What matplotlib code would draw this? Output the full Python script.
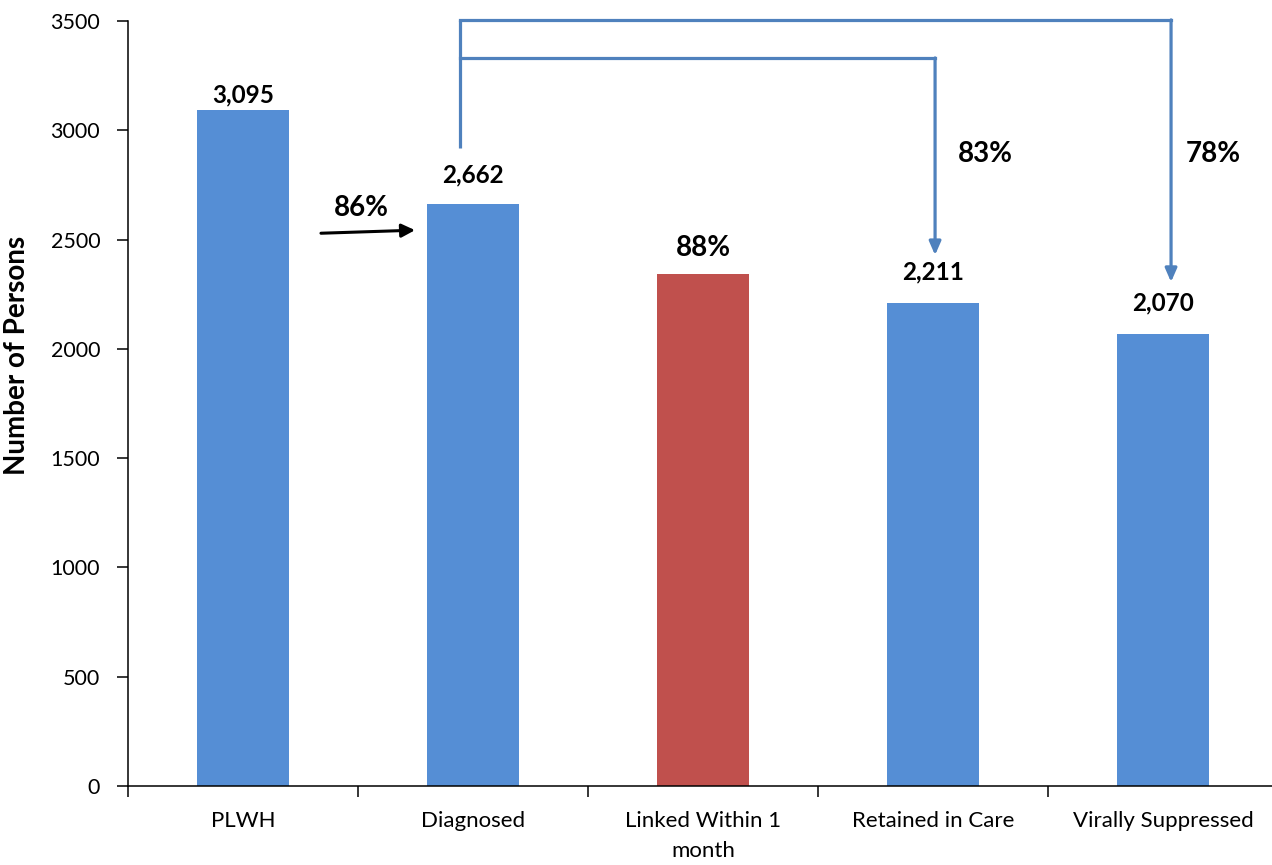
import matplotlib
matplotlib.use("Agg")
import matplotlib.pyplot as plt

plt.rcParams['font.family'] = ['Lato', 'DejaVu Sans']

categories = ["PLWH", "Diagnosed", "Linked Within 1\nmonth", "Retained in Care", "Virally Suppressed"]
values = [3095, 2662, 2342, 2211, 2070]
value_labels = ["3,095", "2,662", "88%", "2,211", "2,070"]
bar_colors = ["#558ED5", "#558ED5", "#C0504D", "#558ED5", "#558ED5"]
yticks = [0, 500, 1000, 1500, 2000, 2500, 3000, 3500]

fig = plt.figure(figsize=(12.72, 8.65), dpi=100)
ax = fig.add_axes([128/1272, 79/865, 1150/1272, 765/865])

x = list(range(len(categories)))
ax.bar(x, values, width=0.4, color=bar_colors, zorder=2)
ax.set_xlim(-0.5, 4.5)
ax.set_ylim(0, 3500)
ax.set_yticks(yticks)
ax.set_xticks([i - 0.5 for i in range(5)], minor=False)
ax.set_xticklabels([])
ax.set_xticks(x, minor=True)
ax.set_xticklabels(categories, minor=True, fontsize=16, linespacing=1.6, va='top')
ax.tick_params(axis='x', which='minor', length=0, pad=18)
ax.tick_params(axis='x', which='major', length=8, width=1.1, direction='out')
ax.tick_params(axis='y', length=8, width=1.1, direction='out', pad=12, labelsize=15.5)
for s in ['top', 'right']:
    ax.spines[s].set_visible(False)
for s in ['left', 'bottom']:
    ax.spines[s].set_linewidth(1.1)

fig.text(17/1272, 1 - 355/865, "Number of Persons", rotation=90, ha='center', va='center',
         fontsize=20, fontweight='bold')

# value labels
offsets = [3, 18, 13, 19, 19]
for i, (v, lab) in enumerate(zip(values, value_labels)):
    fs = 20 if '%' in lab else 17.5
    ax.annotate(lab, (i, v), xytext=(0, offsets[i] * 0.72), textcoords='offset points',
                ha='center', va='bottom', fontsize=fs, fontweight='bold')

# black arrow 86%
ax.annotate("", xy=(0.748, 2543), xytext=(0.339, 2529),
            arrowprops=dict(arrowstyle='-|>,head_length=0.8,head_width=0.4', color='black', lw=2.2,
                            shrinkA=0, shrinkB=0))
ax.text(0.513, 2644, "86%", ha='center', va='center', fontsize=20, fontweight='bold')

# blue brackets
bc = "#4F81BD"
ax.plot([0.943, 0.943], [2919, 3505], color=bc, lw=2.3, clip_on=False, solid_capstyle='butt')
ax.plot([0.943, 4.035], [3505, 3505], color=bc, lw=2.3, clip_on=False)
ax.plot([0.943, 3.009], [3331, 3331], color=bc, lw=2.3, clip_on=False)
ax.annotate("", xy=(3.009, 2429), xytext=(3.009, 3331),
            arrowprops=dict(arrowstyle='-|>,head_length=0.8,head_width=0.35', color=bc, lw=2.3,
                            shrinkA=0, shrinkB=0), annotation_clip=False)
ax.annotate("", xy=(4.035, 2306), xytext=(4.035, 3505),
            arrowprops=dict(arrowstyle='-|>,head_length=0.8,head_width=0.35', color=bc, lw=2.3,
                            shrinkA=0, shrinkB=0), annotation_clip=False)
ax.text(3.226, 2891, "83%", ha='center', va='center', fontsize=20, fontweight='bold')
ax.text(4.217, 2891, "78%", ha='center', va='center', fontsize=20, fontweight='bold')

fig.savefig("out.png", dpi=100)
